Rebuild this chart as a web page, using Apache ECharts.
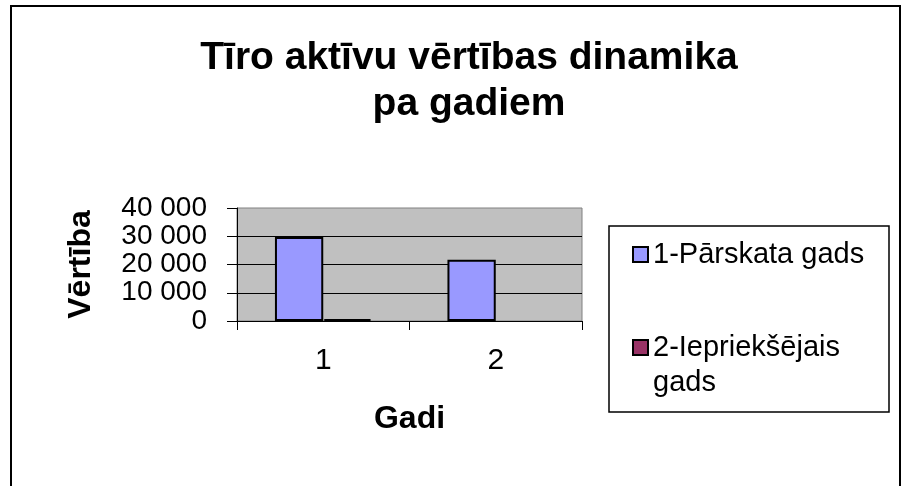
<!DOCTYPE html>
<html><head><meta charset="utf-8">
<script src="https://cdn.jsdelivr.net/npm/echarts@6/dist/echarts.min.js"></script>
<style>html,body{margin:0;padding:0;background:#fff}#c{width:911px;height:486px}</style>
</head><body><div id="c"></div>
<script>
const titleText = 'Tīro aktīvu vērtības dinamika\npa gadiem';
const categories = ['1', '2'];
const seriesNames = ['1-Pārskata gads', '2-Iepriekšējais gads'];
const currentYear = [29700, 21700];
const previousYear = [700, null];
const yAxisName = 'Vērtība';
const xAxisName = 'Gadi';

const FONT = '"Liberation Sans", Arial, sans-serif';
const fmt = v => String(v).replace(/\B(?=(\d{3})+(?!\d))/g, ' ');

const chart = echarts.init(document.getElementById('c'), null, {renderer: 'canvas'});
chart.setOption({
  animation: false,
  backgroundColor: '#fff',
  textStyle: {fontFamily: FONT},
  title: {
    text: titleText,
    left: 469, textAlign: 'center', top: 35, padding: 0,
    textStyle: {fontFamily: FONT, fontSize: 39, fontWeight: 'bold', color: '#000', lineHeight: 46}
  },
  graphic: [
    {type: 'rect', z: 0, silent: true, shape: {x: 11, y: 6, width: 889, height: 492},
     style: {fill: 'none', stroke: '#000', lineWidth: 2}},
    {type: 'rect', z: 0, silent: true, shape: {x: 609, y: 226, width: 280, height: 186},
     style: {fill: 'none', stroke: '#000', lineWidth: 1.5}}
  ],
  legend: [
    {data: [seriesNames[0]], orient: 'vertical', left: 632, top: 240, padding: 0,
     itemWidth: 15, itemHeight: 15, icon: 'rect',
     textStyle: {fontFamily: FONT, fontSize: 29, color: '#000'}},
    {data: [seriesNames[1]], orient: 'vertical', left: 632, top: 295, padding: 0,
     itemWidth: 15, itemHeight: 15, icon: 'rect',
     formatter: n => ' \n' + n.replace(' gads', '\ngads'),
     textStyle: {fontFamily: FONT, fontSize: 29, color: '#000', lineHeight: 35}}
  ],
  grid: {left: 237, right: 329, top: 208, bottom: 165, show: true,
         backgroundColor: '#c0c0c0', borderColor: '#808080', borderWidth: 1},
  xAxis: {
    type: 'category', data: categories,
    name: xAxisName, nameLocation: 'middle', nameGap: 82,
    nameTextStyle: {fontFamily: FONT, fontSize: 32, fontWeight: 'bold', color: '#000'},
    axisLine: {lineStyle: {color: '#000', width: 1}},
    axisTick: {show: true, length: 9, lineStyle: {color: '#000'}},
    axisLabel: {fontFamily: FONT, fontSize: 30, color: '#000', margin: 25},
    splitLine: {show: false}
  },
  yAxis: {
    type: 'value', min: 0, max: 40000, interval: 10000,
    name: yAxisName, nameLocation: 'middle', nameGap: 140, nameRotate: 90,
    nameTextStyle: {fontFamily: FONT, fontSize: 32, fontWeight: 'bold', color: '#000'},
    axisLine: {show: true, lineStyle: {color: '#000', width: 1}},
    axisTick: {show: true, length: 10, lineStyle: {color: '#000'}},
    axisLabel: {fontFamily: FONT, fontSize: 28, color: '#000', margin: 30, formatter: fmt},
    splitLine: {show: true, showMaxLine: false, lineStyle: {color: '#000', width: 1}}
  },
  series: [
    {name: seriesNames[0], type: 'bar', data: currentYear, barGap: '0%', barCategoryGap: '44%',
     itemStyle: {color: '#9999ff', borderColor: '#000', borderWidth: 2}},
    {name: seriesNames[1], type: 'bar', data: previousYear, barGap: '0%', barCategoryGap: '44%',
     itemStyle: {color: '#993366', borderColor: '#000', borderWidth: 2}}
  ]
});
</script></body></html>
